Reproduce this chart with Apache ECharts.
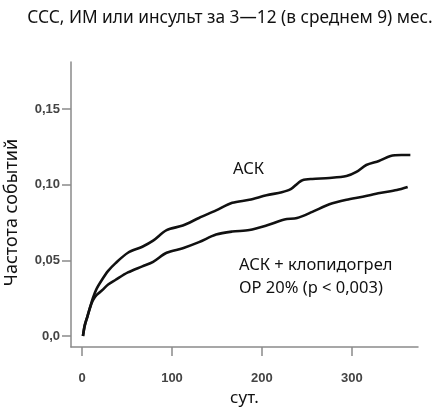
<!DOCTYPE html>
<html>
<head>
<meta charset="utf-8">
<script src="https://cdn.jsdelivr.net/npm/echarts@6/dist/echarts.min.js"></script>
<style>html,body{margin:0;padding:0;background:#fff}#c{width:433px;height:410px}</style>
</head>
<body>
<div id="c"></div>
<script>
const titleText = 'ССС, ИМ или инсульт за 3—12 (в среднем 9) мес.';
const yAxisName = 'Частота событий';
const xAxisName = 'сут.';
const xTicks = [0, 100, 200, 300];
const yTicks = [0, 0.05, 0.10, 0.15];
const yTickLabels = ['0,0', '0,05', '0,10', '0,15'];
const seriesNames = ['АСК', 'АСК + клопидогрел'];
const noteLines = ['АСК + клопидогрел', 'ОР 20% (р < 0,003)'];

const askDays = [1, 3, 6, 9, 12, 16, 22, 29, 37, 51, 67, 79, 94, 112, 130, 149, 167, 186, 205, 222, 232, 240, 245, 256, 275, 294, 305, 316, 330, 343, 355, 365];
const askVals = [0, 0.007, 0.013, 0.019, 0.025, 0.031, 0.037, 0.043, 0.048, 0.055, 0.059, 0.063, 0.070, 0.073, 0.078, 0.083, 0.088, 0.090, 0.093, 0.095, 0.097, 0.101, 0.103, 0.1038, 0.1044, 0.1057, 0.1084, 0.113, 0.1157, 0.119, 0.1196, 0.1196];

const clopDays = [1, 3, 6, 9, 12, 16, 22, 29, 37, 51, 67, 79, 94, 112, 130, 149, 167, 186, 205, 225, 239, 256, 275, 294, 312, 331, 350, 362];
const clopVals = [0, 0.007, 0.013, 0.019, 0.0235, 0.027, 0.030, 0.034, 0.037, 0.042, 0.046, 0.049, 0.055, 0.058, 0.062, 0.067, 0.069, 0.070, 0.073, 0.077, 0.078, 0.082, 0.087, 0.090, 0.092, 0.0945, 0.0965, 0.0985];

const pair = (xs, ys) => xs.map((x, i) => [x, ys[i]]);
const axisGray = '#8a8a8a';
const txt = '#111';
const font = 'Noto Sans';

const chart = echarts.init(document.getElementById('c'), null, {renderer: 'canvas'});
chart.setOption({
  animation: false,
  backgroundColor: '#fff',
  title: {
    text: titleText, left: 225, top: 5, textAlign: 'center',
    textStyle: {fontFamily: font, fontSize: 17.3, fontWeight: 'normal', color: txt}
  },
  grid: {left: 71, right: 15, top: 62, bottom: 63, containLabel: false, outerBoundsMode: 'none'},
  xAxis: {
    type: 'value', min: -12.3, max: 373.5,
    name: xAxisName, nameLocation: 'middle', nameGap: 37,
    nameTextStyle: {fontFamily: font, fontSize: 17, color: txt},
    axisLine: {show: true, onZero: false, lineStyle: {color: axisGray, width: 1.5}},
    axisTick: {show: true, customValues: xTicks, length: 9, inside: false, lineStyle: {color: axisGray, width: 1.5}},
    axisLabel: {customValues: xTicks, margin: 25, fontFamily: 'Liberation Sans', fontWeight: 'bold', fontSize: 13, color: '#444'},
    splitLine: {show: false}
  },
  yAxis: {
    type: 'value', min: -0.0073, max: 0.1811,
    name: yAxisName, nameLocation: 'middle', nameGap: 50, nameRotate: 90,
    nameTextStyle: {fontFamily: font, fontSize: 18, color: txt, padding: [0, 16, 0, 0]},
    axisLine: {show: true, onZero: false, lineStyle: {color: axisGray, width: 1.5}},
    axisTick: {show: true, customValues: yTicks, length: 9, inside: false, lineStyle: {color: axisGray, width: 1.5}},
    axisLabel: {
      customValues: yTicks, margin: 11, fontFamily: 'Liberation Sans', fontWeight: 'bold', fontSize: 13, color: '#444',
      formatter: v => { const i = yTicks.findIndex(t => Math.abs(t - v) < 1e-6); return i >= 0 ? yTickLabels[i] : ''; }
    },
    splitLine: {show: false}
  },
  graphic: [
    {type: 'text', left: 233, top: 161, style: {text: seriesNames[0], fontFamily: font, fontSize: 16.5, fill: txt}},
    {type: 'text', left: 239, top: 257, style: {text: noteLines[0], fontFamily: font, fontSize: 16.5, fill: txt}},
    {type: 'text', left: 239, top: 280, style: {text: noteLines[1], fontFamily: font, fontSize: 16.5, fill: txt}}
  ],
  series: [
    {name: seriesNames[0], type: 'line', data: pair(askDays, askVals), showSymbol: false, smooth: 0.3,
     lineStyle: {color: '#111', width: 2.6}},
    {name: seriesNames[1], type: 'line', data: pair(clopDays, clopVals), showSymbol: false, smooth: 0.3,
     lineStyle: {color: '#111', width: 2.6}}
  ]
});
</script>
</body>
</html>
